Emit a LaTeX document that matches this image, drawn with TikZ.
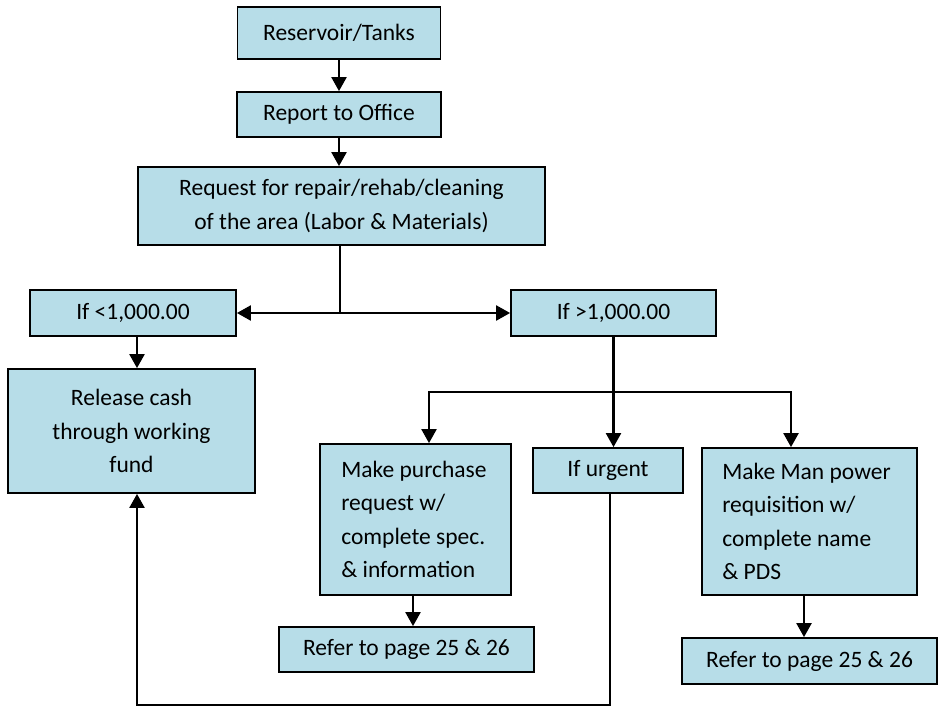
\documentclass[tikz,border=0pt]{standalone}
\usepackage{fontspec}
\setmainfont{Carlito}
\usetikzlibrary{arrows.meta}
\definecolor{boxblue}{HTML}{B7DDE8}
\begin{document}
\begin{tikzpicture}[x=1pt,y=-1pt,
  box/.style={draw=black, fill=boxblue, line width=1.8pt, inner sep=0pt,
    font=\fontsize{23.5}{33.5}\selectfont, align=center},
  txt/.style={inner sep=0pt, font=\fontsize{23.5}{33.5}\selectfont, align=left, anchor=west},
  flow/.style={line width=2.3pt, -{Triangle[length=14pt,width=15pt]}},
  wire/.style={line width=2.3pt}]
\useasboundingbox (0,0) rectangle (941,707);

% process boxes
\node[box, minimum width=203pt, minimum height=52pt] (res) at (339,33) {Reservoir/Tanks};
\node[box, minimum width=204pt, minimum height=45pt] (rep) at (339,114.5) {Report to Office};
\node[box, minimum width=407pt, minimum height=78pt] (req) at (341.5,206)
  {Request for repair/rehab/cleaning\\of the area (Labor \& Materials)};
\node[box, minimum width=206pt, minimum height=46pt] (lt) at (133,313) {If <1,000.00};
\node[box, minimum width=205pt, minimum height=46pt] (gt) at (613.5,313) {If >1,000.00};
\node[box, minimum width=247pt, minimum height=124pt] (rel) at (131.5,431)
  {Release cash\\through working\\fund};
\node[box, minimum width=191pt, minimum height=151pt] (pur) at (415.5,519.5) {};
\node[txt] (purtxt) at ([xshift=22pt]pur.west)
  {Make purchase\\request w/\\complete spec.\\\& information};
\node[box, minimum width=150pt, minimum height=45pt] (urg) at (608,470.5) {If urgent};
\node[box, minimum width=215pt, minimum height=147pt] (man) at (809.5,521.5) {};
\node[txt] (mantxt) at ([xshift=21pt]man.west)
  {Make Man power\\requisition w/\\complete name\\\& PDS};
\node[box, minimum width=255pt, minimum height=45pt] (refa) at (406.5,649.5) {Refer to page 25 \& 26};
\node[box, minimum width=255pt, minimum height=46pt] (refb) at (809.5,661) {Refer to page 25 \& 26};

% junction points of the connectors
\coordinate (split) at (340,313);
\coordinate (bl) at (429,392);
\coordinate (br) at (791,392);
\coordinate (loop) at (137,705);

% connectors
\draw[flow] (res.south) -- (res.south |- rep.north);
\draw[flow] (rep.south) -- (rep.south |- req.north);
\draw[wire] (req.south -| split) -- (split);
\draw[flow] (split) -- (lt.east);
\draw[flow] (split) -- (gt.west);
\draw[flow] (lt.south -| loop) -- (loop |- rel.north);
\draw[flow] (gt.south) -- (gt.south |- urg.north);
\draw[flow] (gt.south |- bl) -- (bl) -- (bl |- pur.north);
\draw[flow] (gt.south |- br) -- (br) -- (br |- man.north);
\draw[flow] (pur.south -| 413,0) -- (413,0 |- refa.north);
\draw[flow] (man.south -| 804,0) -- (804,0 |- refb.north);
\draw[flow] (urg.south -| 610,0) -- (610,705) -- (loop) -- (loop |- rel.south);
\end{tikzpicture}
\end{document}
